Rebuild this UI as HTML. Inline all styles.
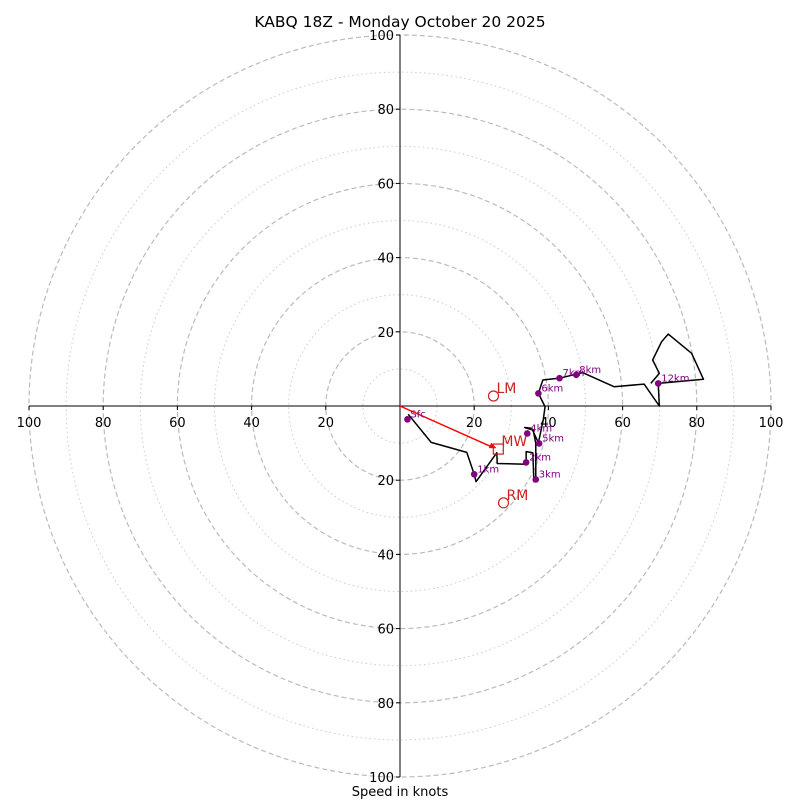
<!DOCTYPE html>
<html><head><meta charset="utf-8"><style>
body{margin:0;background:#fff}
svg{display:block;font-family:"DejaVu Sans","Liberation Sans",sans-serif}
</style></head><body>
<svg id="chart" width="800" height="800" viewBox="0 0 800 800">
<text x="400" y="27" text-anchor="middle" font-size="15.5">KABQ 18Z - Monday October 20 2025</text>
<text x="400" y="796" text-anchor="middle" font-size="13">Speed in knots</text>
<g id="rings"></g><g id="axes"></g><g id="plot"></g>
</svg>
<script>
const ringValues=[10,20,30,40,50,60,70,80,90,100];
const tickValues=[20,40,60,80,100];
const hodoU=[2.2,8.4,18.0,20.0,20.5,26.1,26.2,34.0,34.0,35.8,36.1,36.6,36.6,35.9,33.6,35.5,37.3,38.6,39.1,37.3,38.5,43.0,49.2,57.7,65.8,69.9,69.6,81.8,78.6,72.3,70.5,68.1,69.9,67.6];
const hodoV=[-2.2,-9.8,-12.5,-18.4,-20.4,-12.6,-15.5,-15.7,-12.3,-12.6,-20.4,-20.4,-10.1,-6.5,-5.8,-6.0,-9.9,-3.8,-0.2,3.4,7.0,7.5,9.0,5.2,5.9,0,6.1,7.2,14.2,19.4,17.3,12.4,8.8,6.1];
const markerLabels=["Sfc","1km","2km","3km","4km","5km","6km","7km","8km","12km"];
const markerU=[2.0,20.0,34.0,36.6,34.3,37.5,37.3,43.0,47.5,69.6];
const markerV=[-3.6,-18.4,-15.2,-19.8,-7.4,-10.1,3.4,7.5,8.4,6.1];
const motionLabels=["LM","RM","MW"];
const motionU=[25.2,27.9,26.5];
const motionV=[2.7,-26.1,-11.6];

const NS="http://www.w3.org/2000/svg";
const cx=400,cy=406,k=3.71;
const sx=u=>cx+u*k, sy=v=>cy-v*k;
function mk(tag,attrs,parent,text){const e=document.createElementNS(NS,tag);for(const a in attrs)e.setAttribute(a,attrs[a]);if(text!==undefined)e.textContent=text;document.getElementById(parent).appendChild(e);return e;}

ringValues.forEach(r=>{
  const c=mk('circle',{cx:cx,cy:cy,r:r*k,fill:'none',stroke:r%20===0?'#bbb':'#ccc','stroke-width':r%20===0?1.2:1,'stroke-dasharray':r%20===0?'5,3':'1.5,3'},'rings');
  
  
});
let e=mk('line',{x1:sx(-100),y1:cy,x2:sx(100),y2:cy,stroke:'#000','stroke-width':1},'axes');


e=mk('line',{x1:cx,y1:sy(100),x2:cx,y2:sy(-100),stroke:'#000','stroke-width':1},'axes');


tickValues.forEach(t=>{
  [-1,1].forEach(s=>{
    mk('line',{x1:sx(s*t),y1:cy,x2:sx(s*t),y2:cy+4,stroke:'#000'},'axes');
    e=mk('text',{x:sx(s*t),y:cy+21,'text-anchor':'middle','font-size':13},'axes',String(t));
    
    
    mk('line',{x1:cx-4,y1:sy(s*t),x2:cx,y2:sy(s*t),stroke:'#000'},'axes');
    e=mk('text',{x:cx-6,y:sy(s*t)+5,'text-anchor':'end','font-size':13},'axes',String(t));
    
    
  });
});
e=mk('line',{x1:cx,y1:cy,x2:sx(motionU[2])-4,y2:sy(motionV[2])-1,stroke:'red','stroke-width':1.5},'plot');


const ax=sx(motionU[2]),ay=sy(motionV[2]);
const ang=Math.atan2(ay-cy,ax-cx);
const hx=ax-2*Math.cos(ang),hy=ay-2*Math.sin(ang);
mk('polygon',{points:`${hx},${hy} ${hx-7*Math.cos(ang)+3*Math.sin(ang)},${hy-7*Math.sin(ang)-3*Math.cos(ang)} ${hx-7*Math.cos(ang)-3*Math.sin(ang)},${hy-7*Math.sin(ang)+3*Math.cos(ang)}`,fill:'red'},'plot');
e=mk('polyline',{points:hodoU.map((u,i)=>sx(u)+','+sy(hodoV[i])).join(' '),fill:'none',stroke:'#000','stroke-width':1.5,'stroke-linejoin':'round'},'plot');


markerLabels.forEach((l,i)=>{
  e=mk('circle',{cx:sx(markerU[i]),cy:sy(markerV[i]),r:3.3,fill:'purple'},'plot');
  
  
  e=mk('text',{x:sx(markerU[i])+3,y:sy(markerV[i])-2,'font-size':10,fill:'purple'},'plot',l);
  
  
});
motionLabels.forEach((l,i)=>{
  const x=sx(motionU[i]),y=sy(motionV[i]);
  if(l==='MW') e=mk('rect',{x:x-5,y:y-5,width:10,height:10,fill:'none',stroke:'#c22','stroke-width':1.2},'plot');
  else e=mk('circle',{cx:x,cy:y,r:5,fill:'none',stroke:'#c22','stroke-width':1.2},'plot');
  
  
  e=mk('text',{x:x+3,y:y-3,'font-size':14,fill:'#c22'},'plot',l);
  
  
});
</script>
</body></html>
